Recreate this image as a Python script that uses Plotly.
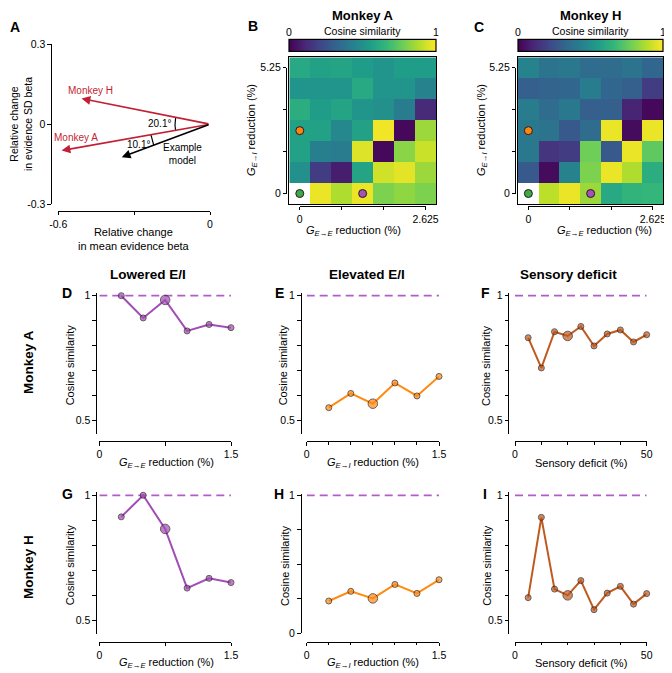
import numpy as np
import plotly.graph_objects as go

# The page body adds an 8 px margin, so the figure is laid out in
# window pixels minus that offset.
WIN_W, WIN_H = 672, 673
OFF = 8
W, H = WIN_W - OFF, WIN_H - OFF
FONT = "Arial, Liberation Sans, sans-serif"

# ---------------- data ----------------
# Panel A: relative change vectors (mean evidence beta, SD evidence beta)
vec_labels = ["Monkey H", "Monkey A", "Example model"]
vec_dx = [-0.508, -0.587, -0.349]
vec_dy = [0.096, -0.099, -0.124]
angle_labels = ["20.1°", "10.1°"]

# Panels B, C: cosine similarity maps
gee_levels = [0, 0.4375, 0.875, 1.3125, 1.75, 2.1875, 2.625]
gei_levels = [0, 0.875, 1.75, 2.625, 3.5, 4.375, 5.25]
cos_map_A = [  # rows from G_E->I = 0 (bottom) to 5.25 (top)
    [None, 0.97, 0.88, 0.97, 0.80, 0.83, 0.80],
    [0.50, 0.18, 0.08, 0.58, 0.93, 0.96, 0.85],
    [0.57, 0.43, 0.42, 0.95, 0.02, 0.82, 0.92],
    [0.57, 0.57, 0.47, 0.57, 0.98, 0.02, 0.85],
    [0.62, 0.55, 0.58, 0.52, 0.50, 0.42, 0.12],
    [0.52, 0.52, 0.52, 0.60, 0.52, 0.52, 0.45],
    [0.60, 0.57, 0.58, 0.55, 0.52, 0.55, 0.55],
]
cos_map_H = [
    [None, 0.90, 0.97, 0.85, 0.60, 0.65, 0.66],
    [0.28, 0.03, 0.45, 0.80, 0.97, 0.88, 0.62],
    [0.40, 0.15, 0.18, 0.78, 0.28, 0.97, 0.75],
    [0.40, 0.38, 0.28, 0.35, 0.97, 0.03, 0.97],
    [0.42, 0.35, 0.40, 0.30, 0.30, 0.10, 0.02],
    [0.30, 0.32, 0.33, 0.42, 0.33, 0.30, 0.18],
    [0.45, 0.38, 0.40, 0.35, 0.35, 0.38, 0.33],
]
example_gee = [0, 0, 1.3125]
example_gei = [0, 2.625, 0]
example_colors = ["#3daa48", "#ff8410", "#a452b8"]

# Panels D-I
ge_levels = [0.25, 0.5, 0.75, 1.0, 1.25, 1.5]
sensory_levels = [5, 10, 15, 20, 25, 30, 35, 40, 45, 50]
lowered_A = [1.0, 0.911, 0.983, 0.859, 0.885, 0.872]
elevated_A = [0.552, 0.609, 0.568, 0.651, 0.599, 0.677]
sensory_A = [0.832, 0.711, 0.856, 0.839, 0.877, 0.799, 0.847, 0.863, 0.815, 0.844]
lowered_H = [0.914, 1.0, 0.866, 0.630, 0.669, 0.652]
elevated_H = [0.234, 0.304, 0.253, 0.354, 0.289, 0.388]
sensory_H = [0.592, 0.912, 0.626, 0.601, 0.660, 0.544, 0.610, 0.637, 0.566, 0.608]
highlight_ge = 0.75
highlight_sens = 20

PURPLE = "#a04db5"
DASH = "#b25cc8"
ORANGE = "#ff8a12"
BROWN = "#bf5a1f"
RED = "#c21f35"
EDGE = "#2b1a1a"


# ---------------- helpers (window pixels -> paper) ----------------
def fx(p):
    return (p - OFF) / W


def fy(p):
    return 1 - (p - OFF) / H


def xd(p0, p1):
    return [fx(p0), fx(p1)]


def yd(ptop, pbot):
    return [fy(pbot), fy(ptop)]


def lin_dom(va, pa, vb, pb, r0, r1):
    k = (pb - pa) / (vb - va)
    return pa + (r0 - va) * k, pa + (r1 - va) * k


AX = dict(showline=True, linecolor="black", linewidth=1.3, ticks="outside",
          ticklen=3.5, tickwidth=1.3, tickcolor="black", showgrid=False,
          zeroline=False, automargin=False,
          tickfont=dict(size=10.5, color="black", family=FONT))

fig = go.Figure()
layout = {}
annotations = []


def ann(text, x, y, size=11, bold=False, angle=0, color="black",
        xanchor="center", yanchor="middle"):
    if bold:
        text = "<b>" + text + "</b>"
    annotations.append(dict(text=text, x=fx(x), y=fy(y), xref="paper",
                            yref="paper", showarrow=False, textangle=angle,
                            xanchor=xanchor, yanchor=yanchor,
                            font=dict(size=size, color=color, family=FONT)))


# ---------------- Panel A ----------------
ax_x0, ax_x1 = 58.3, 210.0
ay_t, ay_b = 44.3, 204.0
layout["xaxis"] = dict(domain=xd(ax_x0, ax_x1), range=[-0.6, 0], anchor="free",
                       position=fy(210.7), tickvals=[-0.6, -0.3, 0],
                       ticktext=["-0.6", "", "0"], **AX)
layout["yaxis"] = dict(domain=yd(ay_t, ay_b), range=[-0.3, 0.3], anchor="free",
                       position=fx(51), tickvals=[-0.3, 0, 0.3],
                       ticktext=["-0.3", "0", "0.3"], **AX)
kx = (ax_x1 - ax_x0) / 0.6
ky = (ay_b - ay_t) / 0.6
th = [np.arctan2(dy * ky, dx * kx) % (2 * np.pi) for dx, dy in zip(vec_dx, vec_dy)]
for (ta, tb), r in [((th[0], th[1]), 35), ((th[1], th[2]), 60)]:
    t = np.linspace(ta, tb, 40)
    fig.add_trace(go.Scatter(x=r * np.cos(t) / kx, y=r * np.sin(t) / ky,
                             mode="lines", line=dict(color="black", width=1.2),
                             xaxis="x", yaxis="y", showlegend=False,
                             hoverinfo="skip"))
for dx, dy, lab in zip(vec_dx, vec_dy, vec_labels):
    col = "black" if lab == "Example model" else RED
    annotations.append(dict(x=dx, y=dy, ax=0, ay=0, xref="x", yref="y",
                            axref="x", ayref="y", text="", showarrow=True,
                            arrowhead=2, arrowsize=1.1, arrowwidth=1.6,
                            arrowcolor=col, standoff=0, startstandoff=0))
ann(vec_labels[0], 90, 90.7, size=10, color=RED)
ann(vec_labels[1], 76, 137.3, size=10, color=RED)
ann(angle_labels[0], 159.3, 123.3, size=10)
ann(angle_labels[1], 138.3, 144, size=10)
ann("Example<br>model", 182.3, 154, size=10)
ann("Relative change<br>in evidence SD beta", 21, 124, size=10.5, angle=-90)
ann("Relative change<br>in mean evidence beta", 134, 239, size=11)

# ---------------- Panels B, C ----------------
GEE_T = "<i>G</i><sub><i>E→E</i></sub> reduction (%)"
GEI_T = "<i>G</i><sub><i>E→I</i></sub> reduction (%)"
heat_specs = [
    dict(z=cos_map_A, hx=(289.3, 436.0), ispine=286.0, hx_ax="x2", hy_ax="y2",
         tx_ax="x3", ty_ax="y3", title="Monkey A", ylab_x=252, xlab_x=353.3),
    dict(z=cos_map_H, hx=(518.0, 663.3), ispine=515.0, hx_ax="x4", hy_ax="y4",
         tx_ax="x5", ty_ax="y5", title="Monkey H", ylab_x=482, xlab_x=604),
]
hy_t, hy_b = 57.3, 204.0
dgee = gee_levels[1] - gee_levels[0]
dgei = gei_levels[1] - gei_levels[0]
HAX = dict(AX, ticklen=3)
for s in heat_specs:
    x0, x1 = s["hx"]
    cw = (x1 - x0) / len(gee_levels)
    ch = (hy_b - hy_t) / len(gei_levels)
    hx_n = s["hx_ax"][1:]
    hy_n = s["hy_ax"][1:]
    tx_n = s["tx_ax"][1:]
    ty_n = s["ty_ax"][1:]
    frame = dict(showline=True, mirror=True, linecolor="black", linewidth=1.3,
                 ticks="", showticklabels=False, showgrid=False, zeroline=False,
                 automargin=False)
    layout["xaxis" + hx_n] = dict(domain=xd(x0, x1),
                                  range=[gee_levels[0] - dgee / 2, gee_levels[-1] + dgee / 2],
                                  anchor=s["hy_ax"], **frame)
    layout["yaxis" + hy_n] = dict(domain=yd(hy_t, hy_b),
                                  range=[gei_levels[0] - dgei / 2, gei_levels[-1] + dgei / 2],
                                  anchor=s["hx_ax"], **frame)
    layout["xaxis" + tx_n] = dict(domain=xd(x0 + cw / 2, x1 - cw / 2),
                                  range=[gee_levels[0], gee_levels[-1]],
                                  anchor="free", position=fy(205.8),
                                  tickvals=gee_levels[::2],
                                  ticktext=["0", "", "", "2.625"], **HAX)
    layout["yaxis" + ty_n] = dict(domain=yd(hy_t + ch / 2, hy_b - ch / 2),
                                  range=[gei_levels[0], gei_levels[-1]],
                                  anchor="free", position=fx(s["ispine"]),
                                  tickvals=gei_levels[::2],
                                  ticktext=["0", "", "", "5.25"], **HAX)
    fig.add_trace(go.Heatmap(
        z=s["z"], x=gee_levels, y=gei_levels, colorscale="Viridis", zmin=0, zmax=1,
        xaxis=s["hx_ax"], yaxis=s["hy_ax"], hoverinfo="skip",
        colorbar=dict(orientation="h", x=fx((x0 + x1) / 2), xanchor="center",
                      y=fy(46.2), yanchor="middle", lenmode="pixels",
                      len=x1 - x0, thickness=12.3, thicknessmode="pixels",
                      outlinewidth=1.2, outlinecolor="black", showticklabels=False,
                      ticks="", xpad=0, ypad=0, borderwidth=0)))
    fig.add_trace(go.Scatter(x=example_gee, y=example_gei, mode="markers",
                             marker=dict(size=8, color=example_colors,
                                         line=dict(color=EDGE, width=1)),
                             xaxis=s["tx_ax"], yaxis=s["ty_ax"], cliponaxis=False,
                             showlegend=False, hoverinfo="skip"))
    ann(s["title"], (x0 + x1) / 2, 15.5, size=13, bold=True)
    ann("Cosine similarity", (x0 + x1) / 2, 31, size=10.5)
    ann("0", x0, 31.5, size=10.5)
    ann("1", x1, 31.5, size=10.5)
    ann(GEI_T, s["ylab_x"], 130, size=11, angle=-90)
    ann(GEE_T, s["xlab_x"], 231, size=11)

# ---------------- Panels D-I ----------------
cols = [
    dict(xs=ge_levels, spine=96.0, x0=99.3, x1=231.0, xr=[0, 1.5],
         tickvals=[0, 0.75, 1.5], ticktext=["0", "", "1.5"], minor=None,
         color=PURPLE, hl=highlight_ge, xlab=GEE_T, xlab_x=166, ylab_x=[70, 70]),
    dict(xs=ge_levels, spine=300.7, x0=306.7, x1=439.0, xr=[0, 1.5],
         tickvals=[0, 1.5], ticktext=["0", "1.5"], minor=[0.25, 0.5, 0.75, 1.0, 1.25],
         color=ORANGE, hl=highlight_ge, xlab=GEI_T, xlab_x=372.7, ylab_x=[283, 285.5]),
    dict(xs=sensory_levels, spine=508.3, x0=515.0, x1=646.7, xr=[0, 50],
         tickvals=[0, 50], ticktext=["0", "50"], minor=[10, 20, 30, 40],
         color=BROWN, hl=highlight_sens, xlab="Sensory deficit (%)", xlab_x=580.7,
         ylab_x=[486.7, 486.7]),
]
rows = [
    dict(series=[lowered_A, elevated_A, sensory_A],
         yrefs=[(1, 295.7, 0.5, 420.7)] * 3,
         xspine=441.0, xlab_y=462.7, letters=["D", "E", "F"], let_y=293,
         ylow=[0.447, 0.447, 0.447], ticks=[[0.5, 0.6, 0.7, 0.8, 0.9, 1.0]] * 3,
         ticktext=[["0.5", "", "", "", "", "1"]] * 3, label="Monkey A", label_y=362),
    dict(series=[lowered_H, elevated_H, sensory_H],
         yrefs=[(1, 495.3, 0.5, 620.7), (1, 495.3, 0, 633.3), (1, 495.3, 0.5, 620.7)],
         xspine=641.5, xlab_y=662.7, letters=["G", "H", "I"], let_y=494,
         ylow=[0.447, 0.0, 0.447],
         ticks=[[0.5, 0.6, 0.7, 0.8, 0.9, 1.0], [0, 0.25, 0.5, 0.75, 1.0], [0.5, 0.6, 0.7, 0.8, 0.9, 1.0]],
         ticktext=[["0.5", "", "", "", "", "1"], ["0", "", "", "", "1"], ["0.5", "", "", "", "", "1"]],
         label="Monkey H", label_y=567),
]
letter_x = [67, 279, 485]
col_titles = [("Lowered E/I", 148), ("Elevated E/I", 367), ("Sensory deficit", 568)]
for t, x in col_titles:
    ann(t, x, 274, size=13.5, bold=True)

n = 6
for ri, r in enumerate(rows):
    ann(r["label"], 28, r["label_y"], size=13.5, bold=True, angle=-90)
    for j, c in enumerate(cols):
        n += 1
        ys = r["series"][j]
        va, pa, vb, pb = r["yrefs"][j]
        ytop = 1.012
        ptop, pbot = lin_dom(va, pa, vb, pb, ytop, r["ylow"][j])
        xax = dict(domain=xd(c["x0"], c["x1"]), range=c["xr"], anchor="free",
                   position=fy(r["xspine"]), tickvals=c["tickvals"],
                   ticktext=c["ticktext"], **AX)
        if c["minor"]:
            xax["minor"] = dict(tickvals=c["minor"], ticks="outside", ticklen=2.5,
                                tickwidth=1.2, tickcolor="black")
        layout["xaxis%d" % n] = xax
        layout["yaxis%d" % n] = dict(domain=yd(ptop, pbot), range=[r["ylow"][j], ytop],
                                     anchor="free", position=fx(c["spine"]),
                                     tickvals=r["ticks"][j], ticktext=r["ticktext"][j], **AX)
        fig.add_trace(go.Scatter(x=c["xr"], y=[1, 1], mode="lines",
                                 line=dict(color=DASH, width=1.8, dash="8px,5px"),
                                 xaxis="x%d" % n, yaxis="y%d" % n, showlegend=False,
                                 hoverinfo="skip"))
        sizes = [9.5 if x == c["hl"] else 6 for x in c["xs"]]
        fig.add_trace(go.Scatter(x=c["xs"], y=ys, mode="lines+markers",
                                 line=dict(color=c["color"], width=2),
                                 marker=dict(size=sizes, color=c["color"],
                                             line=dict(color=EDGE, width=1)),
                                 xaxis="x%d" % n, yaxis="y%d" % n, cliponaxis=False,
                                 showlegend=False, hoverinfo="skip"))
        ann(c["xlab"], c["xlab_x"], r["xlab_y"], size=11)
        ann("Cosine similarity", c["ylab_x"][ri], (ptop + pbot) / 2 + 2, size=11, angle=-90)
        ann(r["letters"][j], letter_x[j], r["let_y"], size=14, bold=True)

# panel letters top row
ann("A", 15, 27, size=14, bold=True)
ann("B", 252.7, 26, size=14, bold=True)
ann("C", 479, 27, size=14, bold=True)

layout.update(dict(width=W, height=H, margin=dict(l=0, r=0, t=0, b=0, autoexpand=False),
                   paper_bgcolor="white", plot_bgcolor="rgba(0,0,0,0)",
                   showlegend=False, annotations=annotations,
                   font=dict(family=FONT, color="black")))
fig.update_layout(**layout)
fig.write_html("out.html")
